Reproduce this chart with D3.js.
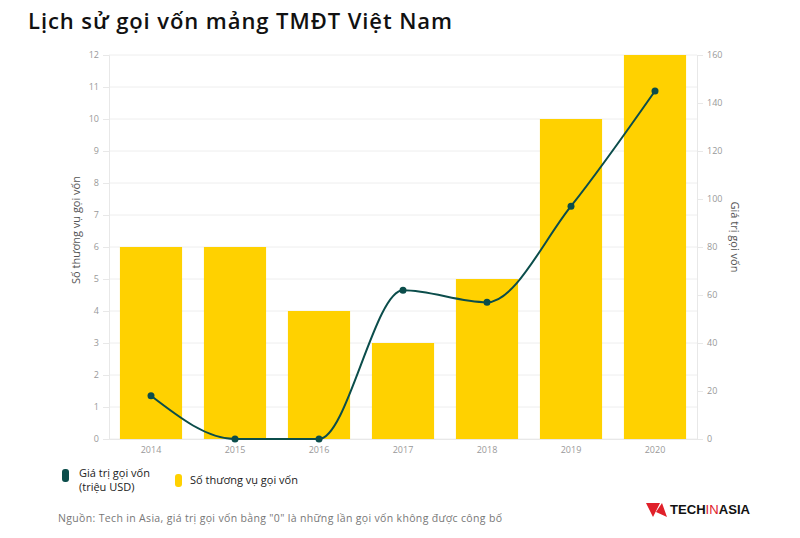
<!DOCTYPE html>
<html><head><meta charset="utf-8">
<script src="https://cdn.jsdelivr.net/npm/d3@7"></script>
<style>body{margin:0;background:#fff;}svg{display:block;}</style>
</head><body><svg id="c" width="800" height="538"></svg>
<script>
const years = ["2014","2015","2016","2017","2018","2019","2020"];
const dealCounts = [6, 6, 4, 3, 5, 10, 12];
const fundingValues = [18, 0, 0, 62, 57, 97, 145];
const leftTicks = [0,1,2,3,4,5,6,7,8,9,10,11,12];
const rightTicks = [0,20,40,60,80,100,120,140,160];

const svg = d3.select("#c");
const font = "'Open Sans', Lato, sans-serif";
const m = {l:109, r:697, t:55, b:439};
const yellow = "#FFD100", teal = "#0B4D4B";

const x = d3.scaleBand().domain(years).range([m.l, m.r]).paddingInner(0.26).paddingOuter(0.13);
const yL = d3.scaleLinear().domain([0,12]).range([m.b, m.t]);
const yR = d3.scaleLinear().domain([0,160]).range([m.b, m.t]);

// title
svg.append("text").attr("x",28).attr("y",29).attr("font-family",font).attr("font-weight",600)
  .attr("font-size",22).attr("fill","#111").attr("textLength",424).attr("lengthAdjust","spacing")
  .text("Lịch sử gọi vốn mảng TMĐT Việt Nam");

// grid
svg.append("g").selectAll("line").data(leftTicks).join("line")
  .attr("x1",m.l).attr("x2",m.r).attr("y1",d=>yL(d)).attr("y2",d=>yL(d))
  .attr("stroke","#eeeeee").attr("stroke-width",1);

// axes
const gl = svg.append("g").attr("transform",`translate(${m.l},0)`)
  .call(d3.axisLeft(yL).tickValues(leftTicks).tickSize(6).tickPadding(4));
const gr = svg.append("g").attr("transform",`translate(${m.r},0)`)
  .call(d3.axisRight(yR).tickValues(rightTicks).tickSize(6).tickPadding(4));
const gb = svg.append("g").attr("transform",`translate(0,${m.b})`)
  .call(d3.axisBottom(x).tickSize(0).tickPadding(8));
[gl,gr,gb].forEach(g=>{
  g.selectAll(".domain").attr("stroke","#e8e8e8");
  g.selectAll(".tick line").attr("stroke","#e8e8e8");
  g.selectAll("text").attr("font-family",font).attr("font-size",9).attr("fill","#999");
});

// bars
svg.append("g").selectAll("rect").data(years).join("rect")
  .attr("x",d=>x(d)).attr("width",x.bandwidth())
  .attr("y",(d,i)=>yL(dealCounts[i])).attr("height",(d,i)=>m.b-yL(dealCounts[i]))
  .attr("fill",yellow);

// line
const line = d3.line().x((d,i)=>x(years[i])+x.bandwidth()/2).y(d=>yR(d)).curve(d3.curveMonotoneX);
svg.append("path").datum(fundingValues).attr("d",line).attr("fill","none")
  .attr("stroke",teal).attr("stroke-width",2);
svg.append("g").selectAll("circle").data(fundingValues).join("circle")
  .attr("cx",(d,i)=>x(years[i])+x.bandwidth()/2).attr("cy",d=>yR(d)).attr("r",3.5).attr("fill",teal);

// axis titles
svg.append("text").attr("transform",`translate(80,230) rotate(-90)`).attr("text-anchor","middle")
  .attr("font-family",font).attr("font-size",11).attr("fill","#555").text("Số thương vụ gọi vốn");
svg.append("text").attr("transform",`translate(731,237) rotate(90)`).attr("text-anchor","middle")
  .attr("font-family",font).attr("font-size",11).attr("fill","#555").text("Giá trị gọi vốn");

// legend
const lg = svg.append("g").attr("font-family",font).attr("font-size",11).attr("fill","#222");
lg.append("rect").attr("x",62).attr("y",469).attr("width",7).attr("height",13).attr("rx",3).attr("fill",teal);
lg.append("text").attr("x",79).attr("y",477).text("Giá trị gọi vốn");
lg.append("text").attr("x",79).attr("y",491).text("(triệu USD)");
lg.append("rect").attr("x",175).attr("y",474).attr("width",7).attr("height",13).attr("rx",3).attr("fill",yellow);
lg.append("text").attr("x",190).attr("y",484).text("Số thương vụ gọi vốn");

// source
svg.append("text").attr("x",58).attr("y",522).attr("font-family",font).attr("font-size",10.5)
  .attr("fill","#777").attr("textLength",444).attr("lengthAdjust","spacing")
  .text("Nguồn: Tech in Asia, giá trị gọi vốn bằng \"0\" là những lần gọi vốn không được công bố");

// logo
const logo = svg.append("g");
logo.append("path").attr("d","M646,503 L660,503 L653,517 Z M656,512 L662,503 L667,517 Z").attr("fill","#e0202a");
const lt = logo.append("text").attr("x",670).attr("y",514).attr("font-family","'Liberation Sans', Arial, sans-serif")
  .attr("font-size",12.5).attr("font-weight",700).attr("fill","#111").attr("textLength",80).attr("lengthAdjust","spacingAndGlyphs");
lt.append("tspan").text("TECH");
lt.append("tspan").attr("font-weight",400).attr("fill","#e0202a").text("IN");
lt.append("tspan").text("ASIA");
</script></body></html>
